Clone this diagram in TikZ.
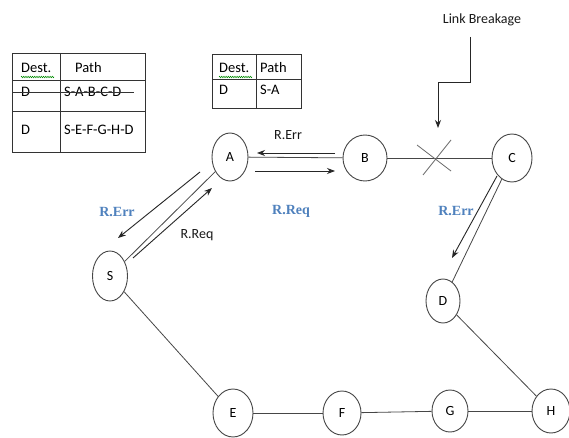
\documentclass[tikz,border=0pt]{standalone}
\usepackage{fontspec}
\setmainfont{Carlito}
\newfontfamily\blueserif{Liberation Serif}
\usetikzlibrary{shapes.geometric,arrows.meta,decorations.pathmorphing}
\definecolor{wordblue}{RGB}{79,129,189}
\definecolor{edgegray}{RGB}{70,70,70}
\tikzset{
  nd/.style={ellipse,draw=edgegray,line width=0.9pt,inner sep=0pt,font=\fontsize{14}{16}\selectfont},
  edge/.style={draw=edgegray,line width=0.8pt},
  msg/.style={draw=black!85,line width=0.9pt,-{Stealth[length=8pt,width=6pt]}},
  blk/.style={font=\fontsize{14}{16}\selectfont,text=black!90},
  bluelbl/.style={font=\blueserif\bfseries\fontsize{14}{16}\selectfont,text=wordblue},
  tab/.style={draw=black!80,line width=0.8pt},
  cell/.style={font=\fontsize{14.5}{16}\selectfont,anchor=west,inner sep=0pt},
  squig/.style={draw=green!55!black,line width=0.5pt,decorate,decoration={zigzag,amplitude=0.8pt,segment length=2.2pt}}
}
\begin{document}
\begin{tikzpicture}[x=1pt,y=-1pt]
\useasboundingbox (0,0) rectangle (569,438);
\fill[white] (0,0) rectangle (569,438);

% ---------- Table 1 ----------
\draw[tab] (12,53) rectangle (145,152);
\draw[tab] (12,80) -- (145,80);
\draw[tab] (12,111) -- (145,111);
\draw[tab] (60,53) -- (60,152);
\node[cell] (t1h1) at (21,68) {Dest.};
\node[cell] (t1h2) at (75,68) {Path};
\node[cell] (t1r1a) at (21,92) {D};
\node[cell] (t1r1b) at (64,92) {S-A-B-C-D};
\node[cell] (t1r2a) at (21,130) {D};
\node[cell] (t1r2b) at (64,130) {S-E-F-G-H-D};
\draw[black!80,line width=0.8pt] (13,92) -- (134,92);
\draw[squig] (21,77) -- (54,77);

% ---------- Table 2 ----------
\draw[tab] (212,54) rectangle (301,108);
\draw[tab] (212,79) -- (301,79);
\draw[tab] (256,54) -- (256,108);
\node[cell] (t2h1) at (219,68) {Dest.};
\node[cell] (t2h2) at (260,68) {Path};
\node[cell] (t2r1a) at (219,90) {D};
\node[cell] (t2r1b) at (260,90) {S-A};
\draw[squig] (219,77) -- (252,77);

% ---------- Nodes ----------
\node[nd,minimum width=36pt,minimum height=48pt] (A) at (230,157) {A};
\node[nd,minimum width=44pt,minimum height=46pt] (B) at (365,158) {B};
\node[nd,minimum width=40pt,minimum height=48pt] (C) at (512,158) {C};
\node[nd,minimum width=35pt,minimum height=50pt] (S) at (110,276) {S};
\node[nd,minimum width=34pt,minimum height=44pt] (D) at (443,301) {D};
\node[nd,minimum width=40pt,minimum height=48pt] (E) at (233,413) {E};
\node[nd,minimum width=38pt,minimum height=44pt] (F) at (342,413) {F};
\node[nd,minimum width=36pt,minimum height=42pt] (G) at (450,411) {G};
\node[nd,minimum width=38pt,minimum height=44pt] (H) at (551,411) {H};

% ---------- Edges ----------
\draw[edge] (A) -- (B);
\draw[edge] (B) -- (C);
\draw[edge] (S) -- (A);
\draw[edge] (S) -- (E);
\draw[edge] (E) -- (F);
\draw[edge] (F) -- (G);
\draw[edge] (G) -- (H);
\draw[edge] (C) -- (D);
\draw[edge] (D) -- (H);

% link break cross
\coordinate (x1) at (417,145); \coordinate (x2) at (451,171);
\coordinate (x3) at (451,140); \coordinate (x4) at (423,175);
\draw[edgegray!80,line width=0.8pt] (x1) -- (x2);
\draw[edgegray!80,line width=0.8pt] (x3) -- (x4);

% ---------- Message arrows ----------
\coordinate (ab1) at (335,153); \coordinate (ab2) at (257,153);
\coordinate (ab3) at (255,171); \coordinate (ab4) at (335,171);
\draw[msg] (ab1) -- (ab2);
\draw[msg] (ab3) -- (ab4);
\coordinate (sa1) at (200,172); \coordinate (sa2) at (118,238);
\coordinate (sa3) at (133,258); \coordinate (sa4) at (212,188);
\draw[msg] (sa1) -- (sa2);
\draw[msg] (sa3) -- (sa4);
\coordinate (cd1) at (497,176); \coordinate (cd2) at (452,258);
\draw[msg] (cd1) -- (cd2);

% Link breakage pointer
\node[blk] (lb) at (482,20) {Link Breakage};
\coordinate (lb1) at (470,37); \coordinate (lb2) at (470,82);
\coordinate (lb3) at (438,82); \coordinate (lb4) at (438,128);
\draw[draw=black!85,line width=0.9pt,-{Stealth[length=8pt,width=6pt]}] (lb1) -- (lb2) -- (lb3) -- (lb4);

% ---------- Labels ----------
\node[blk] (l1) at (288,135) {R.Err};
\node[bluelbl] (l2) at (291,211) {R.Req};
\node[bluelbl] (l3) at (117,212) {R.Err};
\node[blk] (l4) at (197,235) {R.Req};
\node[bluelbl] (l5) at (456,211) {R.Err};
\end{tikzpicture}
\end{document}
